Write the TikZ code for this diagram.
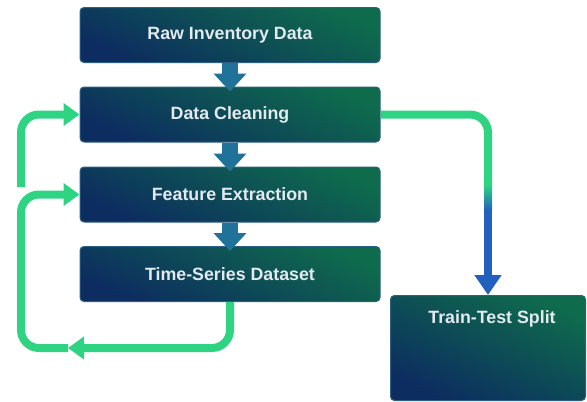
\documentclass[tikz,border=0pt]{standalone}
\usepackage{fontspec}
\setmainfont{Liberation Sans}
\usetikzlibrary{arrows.meta}
\definecolor{navy}{HTML}{0D2C60}
\definecolor{tealgreen}{HTML}{0E6B4C}
\definecolor{boxedge}{HTML}{2B5F86}
\definecolor{boxtext}{HTML}{E2EAF0}
\definecolor{loopgreen}{HTML}{2FD482}
\definecolor{flowblue}{HTML}{217298}
\definecolor{splitblue}{HTML}{2262BE}
\begin{document}
\begin{tikzpicture}[x=1pt,y=-1pt,
  box/.style={draw=boxedge, line width=1pt, rounded corners=4pt,
    top color=tealgreen, middle color=navy!88!tealgreen, bottom color=navy,
    shading angle=-25,
    minimum width=300pt, minimum height=55pt, inner sep=0pt,
    font=\bfseries\fontsize{17.8}{20}\selectfont, text=boxtext},
  downflow/.style={draw=flowblue, line width=16pt, shorten >=-5pt,
    -{Triangle[width=32pt,length=18pt]}},
  loopline/.style={draw=loopgreen, line width=8pt, rounded corners=18pt},
  looparrow/.style={loopline, -{Triangle[width=22pt,length=16pt]}},
  splitarrow/.style={draw=splitblue, line width=8pt,
    -{Triangle[width=26pt,length=20pt]}}
]
\useasboundingbox (0,0) rectangle (587,402);

% main pipeline
\node[box] (raw)   at (230,35)  {Raw Inventory Data};
\node[box] (clean) at (230,114.5) {Data Cleaning};
\node[box] (feat)  at (230,194.5) {Feature Extraction};
\node[box] (ts)    at (230,274) {Time-Series Dataset};
\node[box, minimum width=195pt, minimum height=105pt, anchor=north west,
  label={[anchor=north, yshift=-12pt, xshift=4pt,
          font=\bfseries\fontsize{17.8}{20}\selectfont,
          text=boxtext]north:Train-Test Split}] (split) at (390,295) {};

% downward flow
\draw[downflow] (raw.south) -- (clean.north);
\draw[downflow] (clean.south) -- (feat.north);
\draw[downflow] (feat.south) -- (ts.north);

% branch to the split
\coordinate (gEnd) at ([yshift=110pt]split.north);
\coordinate (bStart) at ([yshift=85pt]split.north);
\draw[loopline] (clean.east) -| (gEnd);
\shade[top color=loopgreen, bottom color=splitblue]
  ([xshift=-4pt]gEnd) rectangle ([xshift=4pt]bStart);
\draw[splitarrow] (bStart) -- (split.north);

% feedback loops
\coordinate (l1) at (21,187);
\draw[looparrow] (l1) |- (clean.west);
\coordinate (mid) at (68,348);
\draw[looparrow] (ts.south) |- (mid);
\draw[looparrow] (mid) -- (21,348) |- (feat.west);
\end{tikzpicture}
\end{document}
